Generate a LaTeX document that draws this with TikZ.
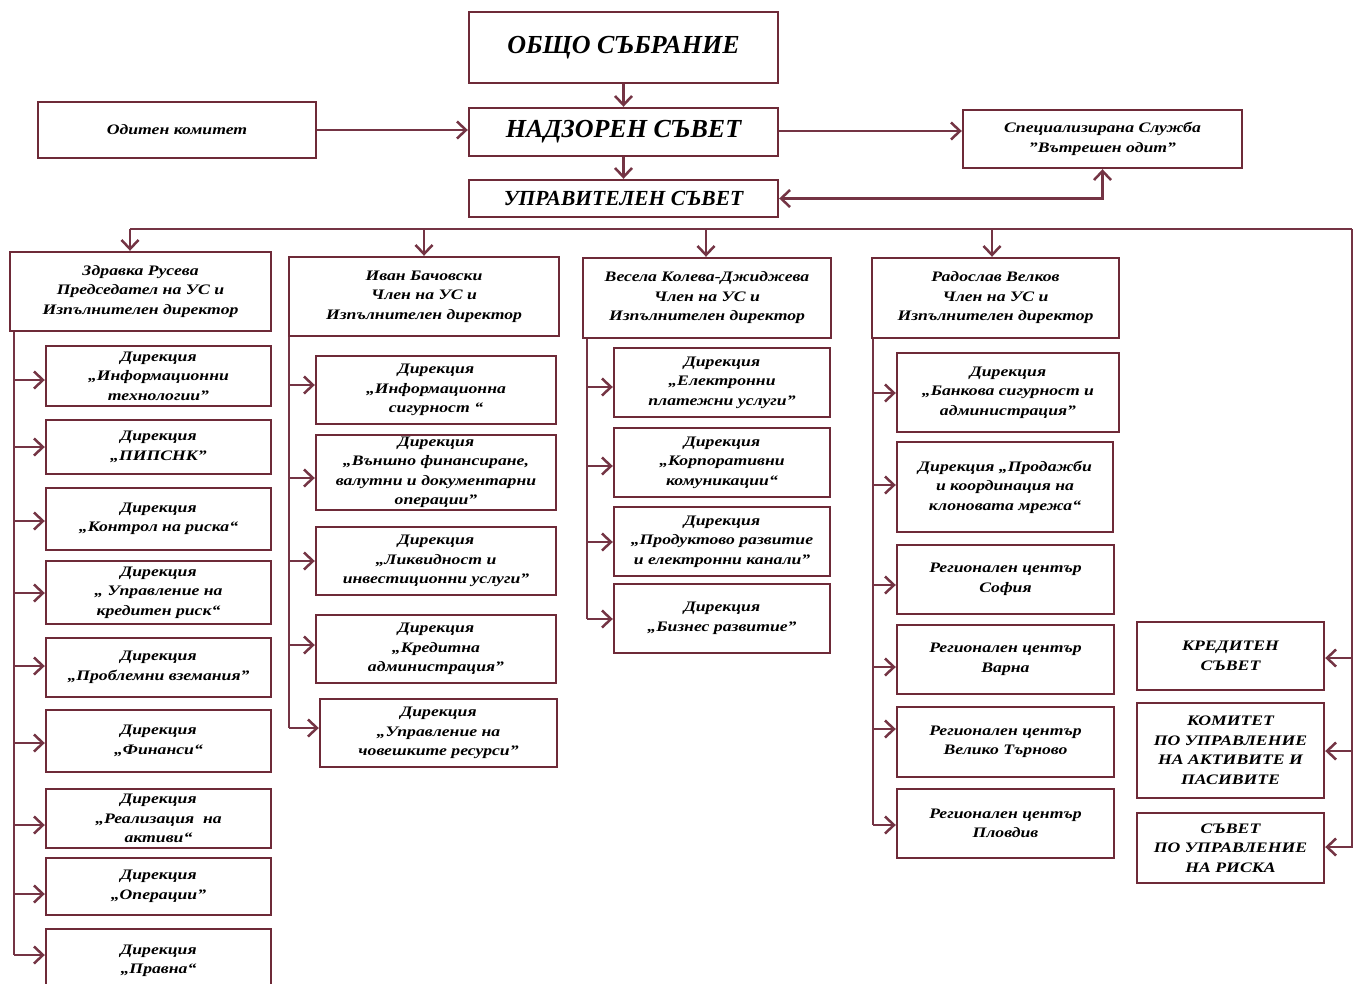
\documentclass[tikz,border=0pt]{standalone}
\usepackage{fontspec}
\setmainfont{Liberation Serif}[FakeStretch=1.22]
\newfontfamily\plainf{Liberation Serif}
\usetikzlibrary{arrows.meta,calc}
\definecolor{mar}{HTML}{6E2A38}
\definecolor{marl}{HTML}{743444}
\tikzset{
  box/.style={draw=mar,line width=2.4pt,inner sep=0pt,align=center,font=\bfseries\itshape\fontsize{14.5}{19.5}\selectfont},
  bigA/.style={box,font=\plainf\bfseries\itshape\fontsize{26}{30}\selectfont},
  bigB/.style={box,font=\plainf\bfseries\itshape\fontsize{21.5}{24}\selectfont},
  con/.style={draw=marl,line width=2.5pt},
  tipb/.tip={Straight Barb[length=9pt,width=17pt,line width=2.5pt]},
  arr/.style={con,-tipb},
  darr/.style={con,tipb-tipb},
}
\newcommand\ubox[7][box]{%
  \pgfmathsetmacro\cxx{(#3+#5)/2}\pgfmathsetmacro\cyy{(#4+#6)/2}%
  \pgfmathsetmacro\ww{#5-#3}\pgfmathsetmacro\hh{#6-#4}%
  \node[#1,minimum width=\ww pt,minimum height=\hh pt] (#2) at (\cxx,\cyy) {#7};}
\begin{document}
\begin{tikzpicture}[x=1pt,y=-1pt]
\useasboundingbox[fill=white] (0,0) rectangle (1354,983);
% top
\ubox[bigA]{obsh}{469}{12}{778}{83}{ОБЩО СЪБРАНИЕ}
\ubox[bigA]{nadz}{469}{108}{778}{156}{НАДЗОРЕН СЪВЕТ}
\ubox[bigB]{upr}{469}{180}{778}{217}{УПРАВИТЕЛЕН СЪВЕТ}
\ubox{odit}{38}{102}{316}{158}{Одитен комитет}
\ubox{spec}{963}{110}{1242}{168}{Специализирана Служба\\”Вътрешен одит”}
\draw[arr] (obsh) -- (nadz);
\draw[arr] (nadz) -- (upr);
\draw[arr] (odit.east) -- (odit.east -| nadz.west);
\draw[arr] ([yshift=1pt]nadz.east) -- ([yshift=1pt]nadz.east -| spec.west);
\draw[darr] (upr.east) -| (spec.south);
% heads
\ubox{h1}{10}{252}{271}{331}{Здравка Русева\\Председател на УС и\\Изпълнителен директор}
\ubox{h2}{289}{257}{559}{336}{Иван Бачовски\\Член на УС и\\Изпълнителен директор}
\ubox{h3}{583}{258}{831}{338}{Весела Колева-Джиджева\\Член на УС и\\Изпълнителен директор}
\ubox{h4}{872}{258}{1119}{338}{Радослав Велков\\Член на УС и\\Изпълнителен директор}
% bus
\coordinate (bus) at (624,229);
\coordinate (busL) at (130,229);
\coordinate (busR) at (1352,229);
\coordinate (rEnd) at (1352,848);
\draw[con] (busL) -- (busR);
\draw[con,line width=1.8pt] (busR) -- (rEnd);
\draw[arr] (busL) -- (busL |- h1.north);
\draw[arr] (bus -| h2.north) -- (h2.north);
\draw[arr] (bus -| 706,0) -- (h3.north -| 706,0);
\draw[arr] (bus -| 992,0) -- (h4.north -| 992,0);
% column 1
\ubox{a1}{46}{346}{271}{406}{Дирекция\\„Информационни\\технологии”}
\ubox{a2}{46}{420}{271}{474}{Дирекция\\„ПИПСНК”}
\ubox{a3}{46}{488}{271}{550}{Дирекция\\„Контрол на риска“}
\ubox{a4}{46}{561}{271}{624}{Дирекция\\„ Управление на\\кредитен риск“}
\ubox{a5}{46}{638}{271}{697}{Дирекция\\„Проблемни вземания”}
\ubox{a6}{46}{710}{271}{772}{Дирекция\\„Финанси“}
\ubox{a7}{46}{789}{271}{848}{Дирекция\\„Реализация\ \ на\\активи“}
\ubox{a8}{46}{858}{271}{915}{Дирекция\\„Операции”}
\ubox{a9}{46}{929}{271}{993}{Дирекция\\„Правна“}
\coordinate (t1) at (14,955);
\draw[con] (h1.south -| t1) -- (t1);
\foreach \n/\y in {a1/380,a2/447,a3/521,a4/593,a5/666,a6/743,a7/825,a8/894,a9/955}
  \draw[arr] (t1 |- 0,\y) -- (\n.west |- 0,\y);
% column 2
\ubox{b1}{316}{356}{556}{424}{Дирекция\\„Информационна\\сигурност “}
\ubox{b2}{316}{435}{556}{510}{Дирекция\\„Външно финансиране,\\валутни и документарни\\операции”}
\ubox{b3}{316}{527}{556}{595}{Дирекция\\„Ликвидност и\\инвестиционни услуги”}
\ubox{b4}{316}{615}{556}{683}{Дирекция\\„Кредитна\\администрация”}
\ubox{b5}{320}{699}{557}{767}{Дирекция\\„Управление на\\човешките ресурси”}
\coordinate (t2) at (289,728);
\draw[con] (h2.south -| t2) -- (t2);
\foreach \n/\y in {b1/385,b2/478,b3/561,b4/645,b5/728}
  \draw[arr] (t2 |- 0,\y) -- (\n.west |- 0,\y);
% column 3
\ubox{c1}{614}{348}{830}{417}{Дирекция\\„Електронни\\платежни услуги”}
\ubox{c2}{614}{428}{830}{497}{Дирекция\\„Корпоративни\\комуникации“}
\ubox{c3}{614}{507}{830}{576}{Дирекция\\„Продуктово развитие\\и електронни канали”}
\ubox{c4}{614}{584}{830}{653}{Дирекция\\„Бизнес развитие”}
\coordinate (t3) at (587,619);
\draw[con] (h3.south -| t3) -- (t3);
\foreach \n/\y in {c1/387,c2/466,c3/542,c4/619}
  \draw[arr] (t3 |- 0,\y) -- (\n.west |- 0,\y);
% column 4
\ubox{d1}{897}{353}{1119}{432}{Дирекция\\„Банкова сигурност и\\администрация”}
\ubox{d2}{897}{442}{1113}{532}{Дирекция „Продажби\\и координация на\\клоновата мрежа“}
\ubox{d3}{897}{545}{1114}{614}{Регионален център\\София}
\ubox{d4}{897}{625}{1114}{694}{Регионален център\\Варна}
\ubox{d5}{897}{707}{1114}{777}{Регионален център\\Велико Търново}
\ubox{d6}{897}{789}{1114}{858}{Регионален център\\Пловдив}
\coordinate (t4) at (873,825);
\draw[con] (h4.south -| t4) -- (t4);
\foreach \n/\y in {d1/393,d2/485,d3/585,d4/667,d5/729,d6/825}
  \draw[arr] (t4 |- 0,\y) -- (\n.west |- 0,\y);
% right committees
\ubox{e1}{1137}{622}{1324}{690}{КРЕДИТЕН\\СЪВЕТ}
\ubox{e2}{1137}{703}{1324}{798}{КОМИТЕТ\\ПО УПРАВЛЕНИЕ\\НА АКТИВИТЕ И\\ПАСИВИТЕ}
\ubox{e3}{1137}{813}{1324}{883}{СЪВЕТ\\ПО УПРАВЛЕНИЕ\\НА РИСКА}
\foreach \n/\y in {e1/658,e2/751,e3/847}
  \draw[arr,line width=1.8pt] (busR |- 0,\y) -- (\n.east |- 0,\y);
\end{tikzpicture}
\end{document}
